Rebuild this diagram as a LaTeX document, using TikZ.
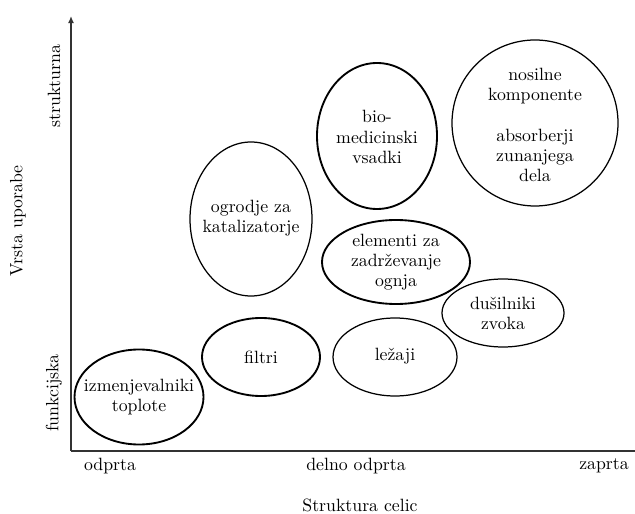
\documentclass[tikz,border=0pt]{standalone}
\usetikzlibrary{arrows.meta}
\begin{document}
\begin{tikzpicture}[x=0.5625pt,y=-0.5625pt,
  txt/.style={align=center,inner sep=0pt,font=\fontsize{10}{11.3}\selectfont},
  lab/.style={inner sep=0pt,font=\fontsize{10}{12}\selectfont},
  thickell/.style={draw=black,line width=1.05pt},
  thinell/.style={draw=black,line width=0.7pt},
  axis/.style={draw=black!80,line width=0.85pt}]
\useasboundingbox (0,0) rectangle (635,514);
% axes
\coordinate (O) at (71,451);
\coordinate (Ytop) at (71,16);
\coordinate (Xend) at (635,451);
\draw[axis,-{Latex[length=4pt,width=3.4pt]}] (O) -- (Ytop);
\draw[axis] (O) -- (Xend);
% axis labels
\node[lab] (x1) at (110,466) {odprta};
\node[lab] (x2) at (356,466) {delno odprta};
\node[lab] (x3) at (604,466) {zaprta};
\node[lab] (xt) at (360,505) {Struktura celic};
\node[lab,rotate=90] (y1) at (54,86) {strukturna};
\node[lab,rotate=90] (y2) at (54,393) {funkcijska};
\node[lab,rotate=90] (yt) at (18,221) {Vrsta uporabe};
% ellipses
\draw[thickell] (139,397) ellipse [x radius=64.5,y radius=47.5];
\node[txt] (e1) at (139,397) {izmenjevalniki\\toplote};
\draw[thickell] (261,357) ellipse [x radius=59,y radius=39];
\node[txt] (e2) at (261,357) {filtri};
\draw[thinell] (251,219) ellipse [x radius=61,y radius=77];
\node[txt] (e3) at (251,218) {ogrodje za\\katalizatorje};
\draw[thickell] (377,136) ellipse [x radius=60,y radius=73];
\node[txt] (e4) at (377,137) {bio-\\medicinski\\vsadki};
\draw[thinell] (535,123) ellipse [x radius=83,y radius=83];
\node[txt] (e5) at (535,125) {nosilne\\komponente\\[11.3pt]absorberji\\zunanjega\\dela};
\draw[thickell] (396,262) ellipse [x radius=74,y radius=42];
\node[txt] (e6) at (396,262) {elementi za\\zadr\v{z}evanje\\ognja};
\draw[thinell] (503,313) ellipse [x radius=61,y radius=34];
\node[txt] (e7) at (503,313) {du\v{s}ilniki\\zvoka};
\draw[thinell] (395,357) ellipse [x radius=62,y radius=39];
\node[txt] (e8) at (395,356) {le\v{z}aji};
\end{tikzpicture}
\end{document}
